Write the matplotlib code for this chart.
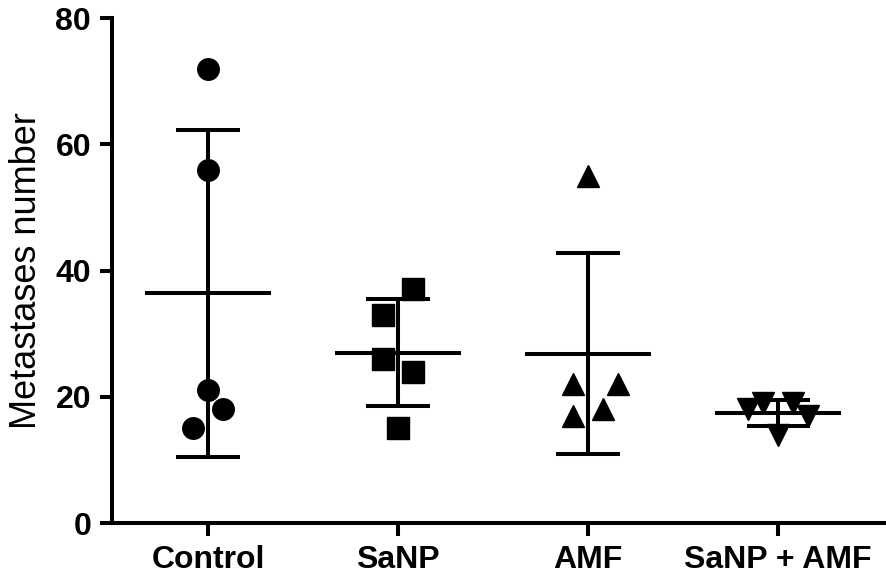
import numpy as np
import matplotlib
matplotlib.use("Agg")
import matplotlib.pyplot as plt

plt.rcParams['font.family'] = ['Liberation Sans', 'DejaVu Sans']

# group names and individual counts
groups = ['Control', 'SaNP', 'AMF', 'SaNP + AMF']
control = [72, 56, 21, 18, 15]
sanp = [37, 33, 26, 24, 15]
amf = [55, 22, 22, 17, 18]
sanp_amf = [18, 19, 19, 17, 14]
series = [control, sanp, amf, sanp_amf]
markers = ['o', 's', '^', 'v']

# horizontal scatter of points inside each column (layout only)
spread = [
    [0, 0, 0, 0.08, -0.08],
    [0.08, -0.08, -0.08, 0.08, 0],
    [0, -0.08, 0.16, -0.08, 0.08],
    [-0.16, -0.08, 0.08, 0.16, 0],
]

fig = plt.figure(figsize=(8.86, 5.76), dpi=100)
ax = fig.add_axes([0.1264, 0.092, 0.8736, 0.8767])

lw = 2.9
for i, vals in enumerate(series):
    vals = np.array(vals, dtype=float)
    xs = i + np.array(spread[i])
    ax.plot(xs, vals, linestyle='none', marker=markers[i], markersize=15.5,
            color='black', clip_on=False, zorder=3)
    m = vals.mean()
    sd = vals.std(ddof=1)
    ax.hlines(m, i - 0.33, i + 0.33, color='black', lw=lw, zorder=2)
    ax.vlines(i, m - sd, m + sd, color='black', lw=lw, zorder=2)
    ax.hlines([m - sd, m + sd], i - 0.166, i + 0.166, color='black', lw=lw, zorder=2)

ax.set_xlim(-0.505, 3.568)
ax.set_ylim(0, 80)
ax.set_yticks([0, 20, 40, 60, 80])
ax.set_xticks(range(len(groups)))
ax.set_xticklabels(groups)

for lab in ax.get_xticklabels() + ax.get_yticklabels():
    lab.set_fontweight('bold')
    lab.set_fontsize(23)

ax.tick_params(axis='both', width=2.9, length=9, color='black', pad=6)
ax.tick_params(axis='x', pad=7)
for side in ['top', 'right']:
    ax.spines[side].set_visible(False)
for side in ['left', 'bottom']:
    ax.spines[side].set_linewidth(2.9)

ax.set_ylabel('Metastases number', fontsize=26, labelpad=8)

fig.savefig('out.png', dpi=100)
